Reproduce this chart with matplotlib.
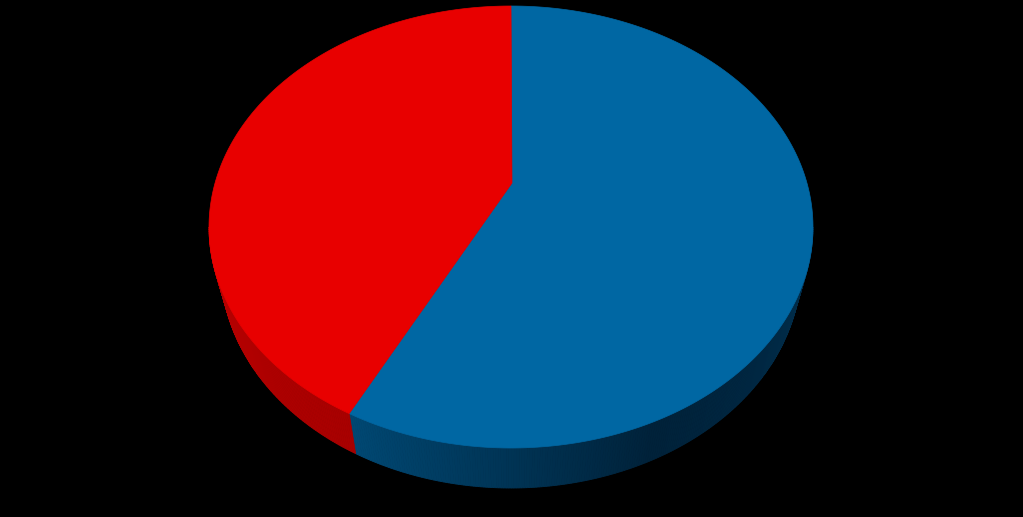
import numpy as np
import matplotlib
matplotlib.use("Agg")
import matplotlib.pyplot as plt
from matplotlib.patches import Polygon

# slice data (clockwise from 12 o'clock)
valores = [59, 41]
cores_topo = ["#0067A3", "#E80000"]
cores_lado_claro = [(0/255, 72/255, 115/255), (185/255, 0, 0)]
cores_lado_escuro = [(0/255, 34/255, 58/255), (150/255, 0, 0)]

# geometry in pixel space
cx, cy_top, rx_top, ry = 511, 227, 302, 221
cy_bot, rx_bot = 267, 290
apex = (512, 183)


def rim(ang, cy, rx):
    a = np.radians(ang)
    return cx + rx * np.sin(a), cy - ry * np.cos(a)


fig = plt.figure(figsize=(10.23, 5.17), dpi=100, facecolor="black")
ax = fig.add_axes([0, 0, 1, 1])
ax.set_facecolor("black")
ax.set_xlim(0, 1023)
ax.set_ylim(517, 0)
ax.axis("off")

fracs = np.array(valores, dtype=float) / sum(valores)
limites = np.concatenate([[0], np.cumsum(fracs) * 360])

# side walls (only the front half, 90..270 degrees)
for i in range(len(valores)):
    a0, a1 = max(limites[i], 90), min(limites[i + 1], 270)
    if a1 <= a0:
        continue
    passos = np.linspace(a0, a1, int((a1 - a0) * 2) + 2)
    for j in range(len(passos) - 1):
        b0, b1 = passos[j], passos[j + 1]
        m = (b0 + b1) / 2
        # darker toward the front-right, lighter near the left
        t = np.clip((270 - m) / 120, 0, 1)
        if i == 0:
            t = np.clip((212 - m) / 60, 0, 1) if m > 150 else 1 - 0.35 * np.clip((150 - m) / 60, 0, 1)
        c = np.array(cores_lado_claro[i]) * (1 - t) + np.array(cores_lado_escuro[i]) * t
        xt0, yt0 = rim(b0, cy_top, rx_top)
        xt1, yt1 = rim(b1, cy_top, rx_top)
        xb0, yb0 = rim(b0, cy_bot, rx_bot)
        xb1, yb1 = rim(b1, cy_bot, rx_bot)
        ax.add_patch(Polygon([(xt0, yt0), (xt1, yt1), (xb1, yb1), (xb0, yb0)],
                             closed=True, facecolor=c, edgecolor=c, lw=0.6))

# top face
for i in range(len(valores)):
    angs = np.linspace(limites[i], limites[i + 1], 200)
    xs, ys = rim(angs, cy_top, rx_top)
    pts = [apex] + list(zip(xs, ys))
    ax.add_patch(Polygon(pts, closed=True, facecolor=cores_topo[i],
                         edgecolor=cores_topo[i], lw=0.5))

fig.savefig("out.png", dpi=100, facecolor="black")
